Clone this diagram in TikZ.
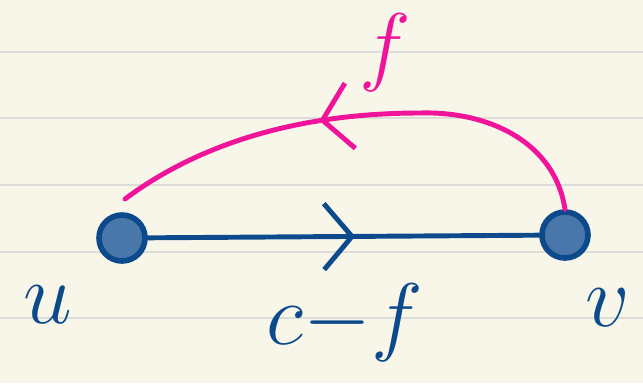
\documentclass[tikz,border=0pt]{standalone}
\usepackage{tikz}
\usetikzlibrary{arrows.meta,decorations.markings,positioning}
\usepackage{xcolor}
\definecolor{paper}{HTML}{F8F6E9}
\definecolor{rule}{HTML}{DCDCD8}
\definecolor{pen}{HTML}{0D4A8C}
\definecolor{hot}{HTML}{F0149A}

\begin{document}
\begin{tikzpicture}[line cap=round,
vert/.style={circle,draw=pen,fill=pen!75,line width=1.6pt,minimum size=.46cm,inner sep=0pt},
lab/.style={font=\fontsize{26}{28}\selectfont,text=pen},
midarrow/.style={postaction={decorate},decoration={markings,mark=at position #1 with {\arrow[line width=1.4pt]{Straight Barb[length=2.8mm,width=6.6mm]}}}}]
\fill[paper] (0,0) rectangle (6.43,3.83);
\useasboundingbox (0,0) rectangle (6.43,3.83);
\foreach \y in {3.31,2.65,1.98,1.31,.65}{\draw[rule,line width=.8pt] (0,\y)--(6.43,\y);}
\node[vert] (u) at (1.22,1.45) {};
\node[vert] (v) at (5.65,1.48) {};
\coordinate (uend) at (1.25,1.84);
\draw[pen,line width=1.4pt,midarrow=.53] (u)--(v);
\draw[hot,line width=1.4pt,midarrow=.58] (v.north) .. controls (5.55,2.4) and (4.9,2.72) .. (4.2,2.7) .. controls (3.0,2.7) and (2.0,2.4) .. (uend);
\node[lab] (ulab) at (.48,.78) {$u$};
\node[lab] (vlab) at (6.08,.75) {$v$};
\node[lab] (cap) at (3.45,.6) {$c{-}f$};
\node[lab,text=hot,font=\fontsize{34}{36}\selectfont] (flow) at (3.85,3.3) {$f$};
\end{tikzpicture}
\end{document}
